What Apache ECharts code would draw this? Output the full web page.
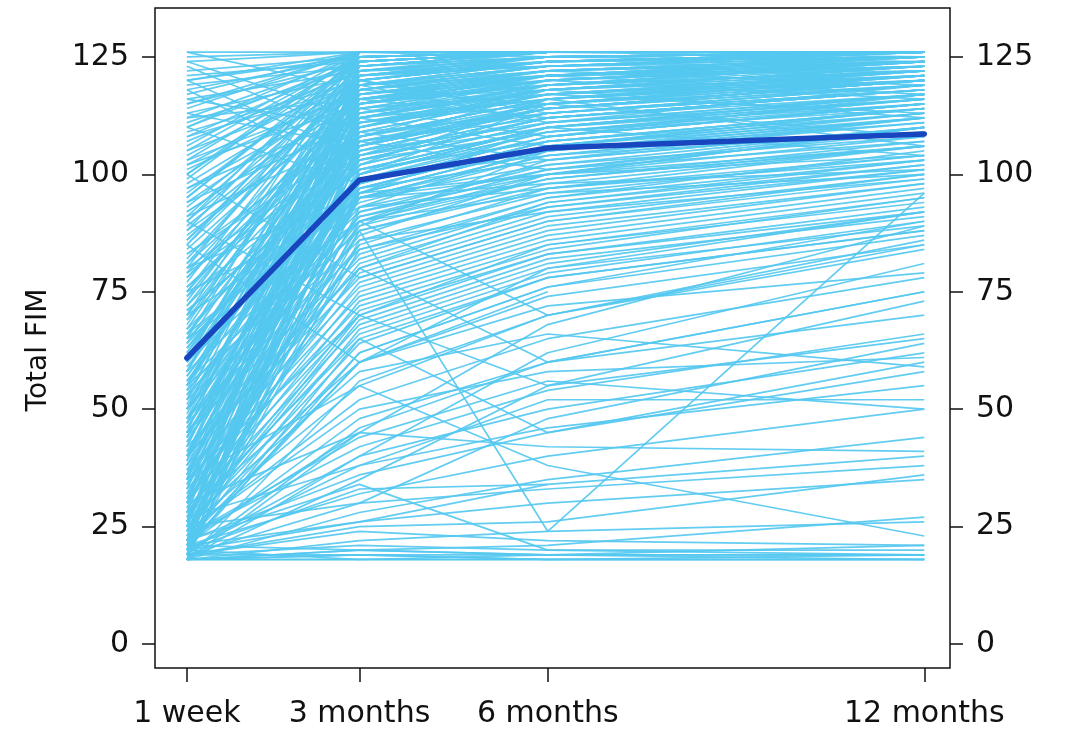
<!DOCTYPE html>
<html>
<head>
<meta charset="utf-8">
<title>Total FIM over time</title>
<script src="https://cdn.jsdelivr.net/npm/echarts@6/dist/echarts.min.js"></script>
<style>
  html, body { margin: 0; padding: 0; background: #ffffff; }
  #chart { width: 1065px; height: 731px; }
</style>
</head>
<body>
<div id="chart"></div>
<script>
// Assessment points (label and time in months after injury)
const timeLabels = ['1 week', '3 months', '6 months', '12 months'];
const timeMonths = [0.25, 3, 6, 12];
const fimTicks = [0, 25, 50, 75, 100, 125];

// Group mean of Total FIM at each assessment
const meanFIM = [60.9, 98.8, 105.6, 108.6];

// Individual patients: [1 week, 3 months, 6 months, 12 months]; null = not assessed
const highFromStart = [
  [126,126,126,126],[125,126,126,126],[124,126,126,126],[122,125,126,126],[121,124,126,126],
  [120,126,125,126],[119,123,126,126],[118,125,126,126],[117,126,126,126],[116,122,125,126],
  [115,124,126,126],[114,126,126,125],[113,121,124,126],[112,125,126,126],[111,123,125,126],
  [110,126,126,126],[109,120,124,125],[108,124,126,126],[107,122,125,126],[106,126,126,126],
  [105,119,123,125],[104,123,126,126],[103,125,126,126],[102,121,124,126],[101,118,122,124],
  [100,124,126,126],[99,126,126,126],[98,120,125,126],[97,117,121,125],[96,123,126,126],
  [95,125,126,126],[94,119,124,126],[93,122,126,126],[92,116,120,123],[91,124,126,126],
  [90,121,125,126],[89,118,123,126],[88,126,126,126],[87,115,121,124],[86,123,126,126],
  [85,120,124,126],[126,118,122,125],[124,112,118,122],[123,108,115,120],[120,104,112,118],
  [118,100,110,116],[116,110,117,121],[113,106,114,119],[110,98,108,115]
];

const reachedCeiling = [
  [70,126,126,126],[65,125,126,126],[60,124,126,126],[55,126,126,126],[50,123,126,126],
  [45,125,126,126],[40,122,125,126],[35,126,126,126],[30,121,125,126],[25,124,126,126],
  [80,126,126,126],[85,125,126,126],[75,123,126,126],[90,126,126,126],[95,124,126,126],
  [100,126,126,126],[105,125,126,126],[110,124,126,126],[115,126,126,126],[120,125,126,126]
];

const upperBand = [
  [58,122,124,125],[42,118,122,124],[33,116,121,123],[67,121,123,124],[28,119,122,125],
  [74,117,120,123],[52,123,125,124],[47,115,119,122],[36,120,124,125],[81,122,123,125],
  [22,117,121,124],[61,118,121,122],[39,121,123,126],[55,116,118,121],[69,119,121,124],
  [26,114,118,121],[44,113,117,120],[78,116,119,122],[31,111,115,119],[50,112,116,120],
  [63,109,113,118],[21,107,112,117],[57,105,111,116],[35,103,109,114],[71,101,107,113],
  [43,99,105,111],[27,97,103,110],[66,95,102,108],[19,93,101,107],[48,91,99,106],
  [88,114,117,121],[97,113,118,123],[103,117,121,124],[108,119,123,125],[112,116,121,123],
  [94,111,116,120],[83,107,113,118],[102,115,119,122],[79,104,110,115],[91,108,114,119]
];

const fastRecovery = [
  [84,117,122,125],[83,110,118,122],[82,121,125,126],[81,113,119,124],[80,106,115,120],
  [79,119,124,126],[78,112,118,123],[77,124,126,126],[76,108,116,121],[75,115,121,124],
  [74,103,112,118],[73,120,124,126],[72,110,117,122],[71,101,110,116],[70,117,122,125],
  [69,107,114,120],[68,122,125,126],[67,104,113,119],[66,113,120,124],[65,99,109,115],
  [64,118,123,126],[63,106,114,120],[62,110,118,123],[61,97,107,114],[60,115,121,125],
  [59,103,112,118],[58,120,124,126],[57,108,116,121],[56,100,110,117],[55,112,119,124],
  [54,96,106,113],[53,117,122,125],[52,105,114,120],[51,109,117,122],[50,98,108,115],
  [49,114,120,124],[48,102,111,117],[47,119,123,126],[46,106,115,121],[45,95,105,112],
  [44,111,118,123],[43,100,109,116],[42,116,121,125],[41,104,113,119],[40,97,107,114],
  [39,108,116,122],[38,112,119,124],[37,99,108,115],[36,103,112,118],[35,118,123,126],
  [34,95,104,111],[33,107,115,121],[32,101,110,117],[31,110,118,123],[30,96,106,113],
  [29,105,114,120],[28,114,120,124],[27,98,108,115],[26,102,111,117],[25,109,117,122],
  [24,95,105,112],[23,104,113,119],[22,100,109,116],[21,112,119,123],[20,97,107,114],
  [19,106,114,120],[18,101,110,117],[18,96,106,112],[19,108,116,121],[20,115,121,125]
];

const plateauMix = [
  [62,116,112,118],[48,120,114,120],[36,110,120,116],[58,114,108,117],[44,106,118,112],
  [72,118,115,121],[30,112,106,114],[66,108,119,124],[54,119,111,119],[40,113,121,117],
  [76,111,117,113],[26,104,116,122],[86,120,113,118],[92,116,122,119],[34,109,103,112],
  [46,100,115,108],[56,107,101,110],[64,102,116,106],[38,96,110,104],[24,99,104,109]
];

const moderateRecovery = [
  [60,94,104,112],[58,92,100,108],[56,90,103,110],[55,88,98,106],[53,93,106,114],
  [52,86,96,104],[50,91,101,109],[48,84,95,103],[47,89,99,107],[45,82,94,102],
  [44,87,100,110],[42,80,92,101],[41,85,97,106],[40,78,90,99],[38,83,95,105],
  [37,76,88,98],[36,81,93,102],[35,74,86,96],[34,79,91,100],[33,72,84,95],
  [32,77,89,98],[31,70,83,93],[30,75,87,97],[29,68,81,92],[28,73,85,94],
  [27,66,79,90],[26,71,83,92],[25,64,78,88],[24,69,82,91],[23,62,76,87],
  [22,67,80,89],[21,60,74,85],[20,65,78,88],[19,86,92,99],[20,88,97,104],
  [22,90,99,106],[24,84,93,101],[26,92,102,110],[28,80,94,103],[30,89,105,113],
  [45,95,98,101],[70,95,100,104],[75,93,97,103],[65,90,96,100],[80,96,100,106],
  [100,78,90,100],[90,70,85,95],[85,60,80,92],[35,70,55,65],[28,65,45,60],
  [40,80,60,75],[45,90,70,85]
];

const slowRecovery = [
  [22,45,68,89],[25,55,70,84],[20,40,62,81],[28,60,72,79],[18,35,55,73],
  [21,48,60,70],[19,30,48,64],[24,50,58,61],[26,58,66,59],[20,38,52,52],
  [23,44,56,50],[30,45,42,41],[19,25,26,36],[18,20,21,27],[35,55,38,23],
  [30,88,24,96],[18,22,24,26],[19,24,22,21],[20,26,30,35],[18,28,35,44],
  [21,32,40,50],[22,36,45,58],[18,40,50,62],[23,42,54,66],[19,46,60,75],
  [24,52,65,78],[18,56,70,86],[20,62,76,90],[21,26,34,40],[25,30,33,38],
  [27,38,46,55],[22,34,20,20]
];

const nearFloor = [
  [18,19,19,21],[18,18,18,19],[18,18,18,18],[19,19,18,18],[18,20,19,19],
  [20,18,18,18],[19,21,20,19],[18,19,18,18],[21,20,19,18],[18,18,19,19]
];

const incompleteFollowUp = [
  [20,33,34,null],[25,70,null,null],[30,85,null,null],[18,45,null,null],[60,110,null,null],
  [40,100,null,null],[50,100,110,null],[22,60,75,null],[null,90,100,110],[null,115,120,124]
];

const patientGroups = [
  highFromStart, reachedCeiling, upperBand, fastRecovery, plateauMix,
  moderateRecovery, slowRecovery, nearFloor, incompleteFollowUp
];

const LINE_COLOR = '#55C8F0';
const MEAN_COLOR = '#1746BF';
const INK = '#111111';
const FONT = 'DejaVu Sans';

function toPoints(values) {
  return values.map((v, i) => [timeMonths[i], v === null ? '-' : v]);
}

const series = [];
patientGroups.forEach(group => {
  group.forEach(row => {
    series.push({
      type: 'line',
      data: toPoints(row),
      showSymbol: false,
      symbol: 'none',
      silent: true,
      connectNulls: false,
      lineStyle: { color: LINE_COLOR, width: 1.7, opacity: 0.92 },
      z: 2
    });
  });
});

series.push({
  type: 'line',
  data: toPoints(meanFIM),
  symbol: 'none',
  silent: true,
  lineStyle: { color: MEAN_COLOR, width: 5.5, cap: 'round', join: 'round' },
  z: 5
});

const tickStyle = { color: INK, width: 1.5 };
const labelStyle = { color: INK, fontFamily: FONT, fontSize: 30 };

function yAxisDef(position) {
  return {
    type: 'value',
    position: position,
    min: -5.1,
    max: 135.4,
    splitLine: { show: false },
    axisLine: { show: false, onZero: false },
    axisTick: { show: true, length: 13, customValues: fimTicks, lineStyle: tickStyle },
    axisLabel: Object.assign({ customValues: fimTicks, margin: 26 }, labelStyle)
  };
}

const leftAxis = yAxisDef('left');
leftAxis.name = 'Total FIM';
leftAxis.nameLocation = 'middle';
leftAxis.nameGap = 102;
leftAxis.nameRotate = 90;
leftAxis.nameTextStyle = { color: INK, fontFamily: FONT, fontSize: 28, padding: [0, 24, 0, 0] };

const rightAxis = yAxisDef('right');

const chart = echarts.init(document.getElementById('chart'), null, { renderer: 'canvas' });
chart.setOption({
  animation: false,
  backgroundColor: '#ffffff',
  grid: {
    left: 155, right: 115, top: 8, bottom: 63,
    show: true, borderColor: INK, borderWidth: 1.5, backgroundColor: 'transparent'
  },
  xAxis: {
    type: 'value',
    min: -0.258,
    max: 12.41,
    splitLine: { show: false },
    axisLine: { show: false, onZero: false },
    axisTick: { show: true, length: 14, customValues: timeMonths, lineStyle: tickStyle },
    axisLabel: Object.assign({
      customValues: timeMonths,
      margin: 31,
      formatter: v => {
        const i = timeMonths.findIndex(t => Math.abs(t - v) < 1e-6);
        return i >= 0 ? timeLabels[i] : '';
      }
    }, labelStyle)
  },
  yAxis: [leftAxis, rightAxis],
  series: series
});
</script>
</body>
</html>
